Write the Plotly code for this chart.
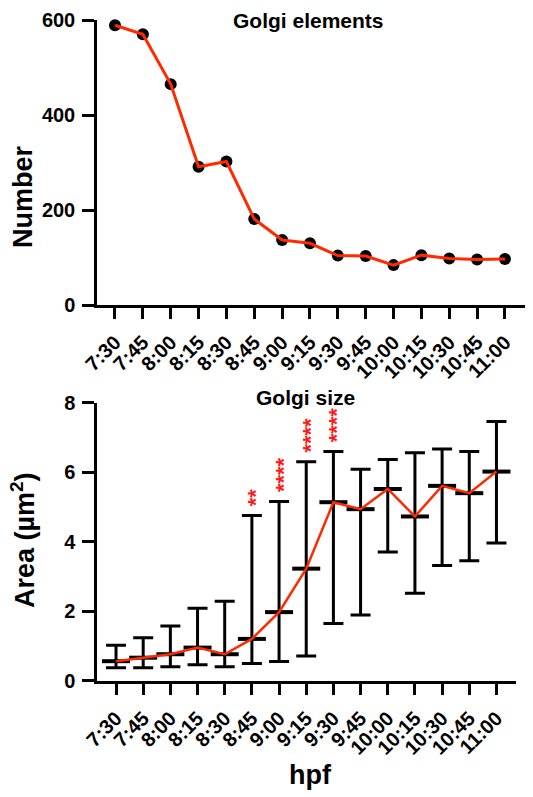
import plotly.graph_objects as go

# ---------------- data ----------------
times = ["7:30", "7:45", "8:00", "8:15", "8:30", "8:45", "9:00", "9:15",
         "9:30", "9:45", "10:00", "10:15", "10:30", "10:45", "11:00"]
golgi_number = [589, 570, 465, 291, 302, 181, 137, 130, 104, 103, 84, 105, 98, 96, 97]
area_mean = [0.57, 0.67, 0.77, 0.96, 0.77, 1.21, 1.98, 3.23, 5.14, 4.94, 5.52, 4.73, 5.61, 5.40, 6.02]
area_upper = [1.03, 1.24, 1.58, 2.09, 2.29, 4.76, 5.16, 6.30, 6.60, 6.09, 6.37, 6.56, 6.67, 6.60, 7.46]
area_lower = [0.38, 0.38, 0.41, 0.47, 0.41, 0.50, 0.56, 0.72, 1.65, 1.90, 3.71, 2.52, 3.32, 3.46, 3.97]
sig_labels = {"8:45": "**", "9:00": "****", "9:15": "****", "9:30": "****"}

RED = "#ff2a00"
FONT = "Liberation Sans, Arial, sans-serif"

xs = list(range(len(times)))
err_plus = [u - m for u, m in zip(area_upper, area_mean)]
err_minus = [m - l for m, l in zip(area_mean, area_lower)]

fig = go.Figure()

# top panel: markers then line on top
fig.add_trace(go.Scatter(x=xs, y=golgi_number, mode="markers",
                         marker=dict(color="black", size=12),
                         xaxis="x", yaxis="y", cliponaxis=False, showlegend=False))
fig.add_trace(go.Scatter(x=xs, y=golgi_number, mode="lines",
                         line=dict(color=RED, width=3),
                         xaxis="x", yaxis="y", cliponaxis=False, showlegend=False))

# bottom panel: mean bars + range error bars, then line
fig.add_trace(go.Scatter(x=xs, y=area_mean, mode="markers",
                         marker=dict(symbol="line-ew", size=20, color="black",
                                     line=dict(color="black", width=4)),
                         error_y=dict(type="data", symmetric=False, array=err_plus,
                                      arrayminus=err_minus, color="black",
                                      thickness=3, width=10),
                         xaxis="x2", yaxis="y2", cliponaxis=False, showlegend=False))
fig.add_trace(go.Scatter(x=xs, y=area_mean, mode="lines",
                         line=dict(color=RED, width=2.5),
                         xaxis="x2", yaxis="y2", cliponaxis=False, showlegend=False))

axis_common = dict(showline=True, linecolor="black", linewidth=2.5,
                   ticks="outside", tickcolor="black", tickwidth=2.5,
                   showgrid=False, zeroline=False, automargin=False,
                   tickfont=dict(family=FONT, size=20, color="black", weight="bold"))

fig.update_layout(
    width=533, height=797,
    margin=dict(l=97, r=8, t=20, b=116),
    paper_bgcolor="white", plot_bgcolor="white",
    xaxis=dict(domain=[0, 1], anchor="y", range=[-0.646, 14.72],
               tickmode="array", tickvals=xs, ticktext=times, tickangle=-45,
               ticklen=11, ticklabelstandoff=4, **axis_common),
    yaxis=dict(domain=[0.5688, 1], anchor="x", range=[0, 600],
               tickmode="array", tickvals=[0, 200, 400, 600], ticklen=12,
               ticklabelstandoff=3, **axis_common),
    xaxis2=dict(domain=[0, 0.979], anchor="y2", range=[-0.70, 14.72],
                tickmode="array", tickvals=xs, ticktext=times, tickangle=-45,
                ticklen=11, ticklabelstandoff=4, **axis_common),
    yaxis2=dict(domain=[0, 0.421], anchor="x2", range=[0, 8],
                tickmode="array", tickvals=[0, 2, 4, 6, 8], ticklen=12,
                ticklabelstandoff=3, **axis_common),
)

def px_x(px):
    return (px - 97) / 428.0

def px_y(py):
    return (681 - py) / 661.0

title_font = dict(family=FONT, size=21, color="black", weight="bold")
axis_title_font = dict(family=FONT, size=27, color="black", weight="bold")

annotations = [
    dict(text="Golgi elements", x=px_x(308), y=px_y(20), xref="paper", yref="paper",
         showarrow=False, font=title_font, xanchor="center", yanchor="middle"),
    dict(text="Golgi size", x=px_x(305), y=px_y(397), xref="paper", yref="paper",
         showarrow=False, font=title_font, xanchor="center", yanchor="middle"),
    dict(text="Number", x=px_x(23), y=px_y(197), xref="paper", yref="paper",
         showarrow=False, font=axis_title_font, textangle=-90,
         xanchor="center", yanchor="middle"),
    dict(text="Area (µm<sup>2</sup>)", x=px_x(23), y=px_y(540), xref="paper", yref="paper",
         showarrow=False, font=axis_title_font, textangle=-90,
         xanchor="center", yanchor="middle"),
    dict(text="hpf", x=px_x(310), y=px_y(775), xref="paper", yref="paper",
         showarrow=False, font=axis_title_font, xanchor="center", yanchor="middle"),
]

for t, lab in sig_labels.items():
    i = times.index(t)
    annotations.append(dict(text=lab, x=i, y=area_upper[i], xref="x2", yref="y2",
                            showarrow=False, textangle=-90,
                            font=dict(family=FONT, size=22, color="#ff1a1a", weight="bold"),
                            xanchor="center", yanchor="bottom", yshift=7, xshift=4))

fig.update_layout(annotations=annotations)

fig.write_html("out.html", config={"displayModeBar": False},
               post_script="document.body.style.margin='0';document.body.style.padding='0';document.body.style.overflow='hidden';")
